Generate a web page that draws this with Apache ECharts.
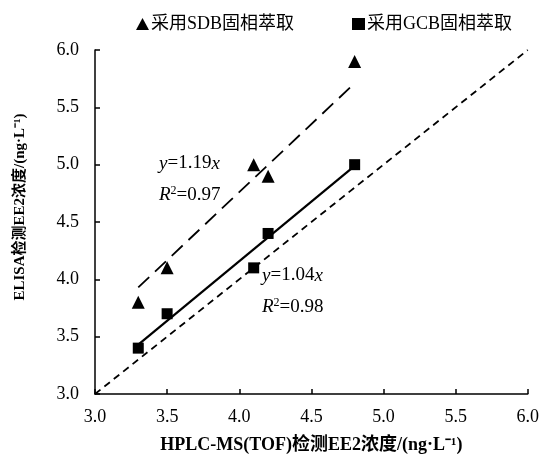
<!DOCTYPE html>
<html>
<head>
<meta charset="utf-8">
<script src="https://cdn.jsdelivr.net/npm/echarts@6/dist/echarts.min.js"></script>
<style>
  html, body { margin: 0; padding: 0; background: #fff; }
  #chart { width: 542px; height: 459px; }
</style>
</head>
<body>
<div id="chart"></div>
<script>
// data
var sdbName = '采用SDB固相萃取'
var gcbName = '采用GCB固相萃取'
var sdbPoints = [[3.3, 3.8], [3.5, 4.1], [4.1, 5.0], [4.2, 4.9], [4.8, 5.9]]
var gcbPoints = [[3.3, 3.4], [3.5, 3.7], [4.1, 4.1], [4.2, 4.4], [4.8, 5.0]]
// fitted lines (end points) and 1:1 line
var sdbFit = [[3.3, 3.93], [4.8, 5.71]]
var gcbFit = [[3.3, 3.43], [4.8, 4.99]]
var oneToOne = [[3.0, 3.0], [6.0, 6.0]]
var sdbEq = ['1.19', '0.97']
var gcbEq = ['1.04', '0.98']
var xTitle = 'HPLC-MS(TOF)检测EE2浓度/(ng·L⁻¹)'
var yTitle = 'ELISA检测EE2浓度/(ng·L⁻¹)'

var font = '"Liberation Serif", "Times New Roman", "Noto Sans CJK SC", serif'

var chart = echarts.init(document.getElementById('chart'), null, {renderer: 'canvas'})

var eqRich = {
    i: {fontStyle: 'italic', fontSize: 19, fontFamily: font, fill: '#000'},
    n: {fontSize: 19, fontFamily: font, fill: '#000'},
    s: {fontSize: 12, fontFamily: font, fill: '#000', verticalAlign: 'top', padding: [0, 0, 8, 0]}
}

function eqText(left, top, eq) {
    return [{
        type: 'text', left: left, top: top,
        style: {text: '{i|y}{n|=' + eq[0] + '}{i|x}', rich: eqRich, font: '19px ' + font}
    }, {
        type: 'text', left: left, top: top + 31,
        style: {text: '{i|R}{s|2}{n|=' + eq[1] + '}', rich: eqRich, font: '19px ' + font}
    }]
}

var option = {
    animation: false,
    backgroundColor: '#fff',
    grid: {left: 95, right: 11, top: 50, bottom: 64},
    legend: {
        top: 10,
        left: 131,
        itemGap: 58,
        itemWidth: 13,
        itemHeight: 12,
        data: [{name: sdbName, icon: 'triangle'}, {name: gcbName, icon: 'rect'}],
        textStyle: {fontFamily: font, fontSize: 18, color: '#000', padding: [0, 0, 0, -3]}
    },
    xAxis: {
        type: 'value', min: 3, max: 6, interval: 0.5,
        name: xTitle, nameLocation: 'middle', nameGap: 42,
        nameTextStyle: {fontFamily: font, fontSize: 18, fontWeight: 'bold', color: '#000'},
        axisLine: {lineStyle: {color: '#000', width: 1.5}},
        axisTick: {inside: true, length: 5, lineStyle: {color: '#000', width: 1.5}},
        axisLabel: {fontFamily: font, fontSize: 18, color: '#000', margin: 14,
            formatter: function (v) { return v.toFixed(1) }},
        splitLine: {show: false}
    },
    yAxis: {
        type: 'value', min: 3, max: 6, interval: 0.5,
        axisLine: {show: true, lineStyle: {color: '#000', width: 1.5}},
        axisTick: {show: true, inside: true, length: 5, lineStyle: {color: '#000', width: 1.5}},
        axisLabel: {fontFamily: font, fontSize: 18, color: '#000', margin: 16,
            formatter: function (v) { return v.toFixed(1) }},
        splitLine: {show: false}
    },
    series: [{
        name: '1:1', type: 'line', data: oneToOne, symbol: 'none', silent: true,
        lineStyle: {color: '#000', width: 1.8, type: [7, 5]}
    }, {
        name: 'sdbFit', type: 'line', data: sdbFit, symbol: 'none', silent: true,
        lineStyle: {color: '#000', width: 1.8, type: [15, 8]}
    }, {
        name: 'gcbFit', type: 'line', data: gcbFit, symbol: 'none', silent: true,
        lineStyle: {color: '#000', width: 2.2}
    }, {
        name: sdbName, type: 'scatter', data: sdbPoints, symbol: 'triangle', symbolSize: 13,
        itemStyle: {color: '#000', opacity: 1}
    }, {
        name: gcbName, type: 'scatter', data: gcbPoints, symbol: 'rect', symbolSize: 11,
        itemStyle: {color: '#000', opacity: 1}
    }],
    graphic: eqText(159, 154, sdbEq).concat(eqText(262, 266, gcbEq)).concat([{
        // y axis title, sits a bit above the middle of the axis
        type: 'text', x: 20, y: 207, rotation: Math.PI / 2,
        style: {text: yTitle, font: 'bold 15px ' + font, fill: '#000',
            align: 'center', verticalAlign: 'middle'}
    }])
}

chart.setOption(option)
</script>
</body>
</html>
